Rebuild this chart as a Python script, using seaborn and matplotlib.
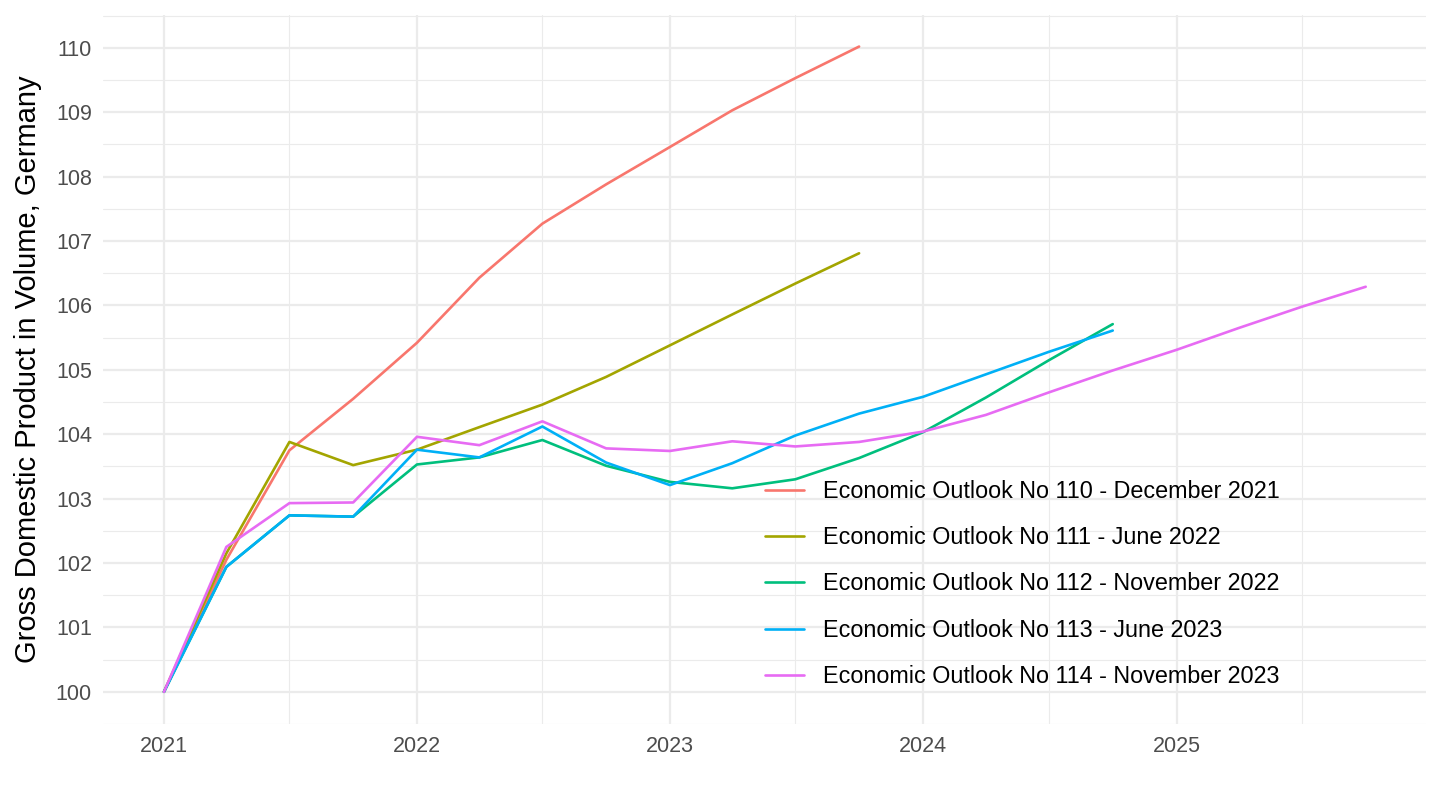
import matplotlib
matplotlib.use("Agg")
import matplotlib.pyplot as plt
import matplotlib.dates as mdates
from matplotlib.ticker import MultipleLocator
import seaborn as sns
import pandas as pd

# ---- data ----
quarters = pd.date_range("2021-01-01", "2025-10-01", freq="QS")

eo110 = [100, 102.05, 103.75, 104.55, 105.42, 106.43, 107.27, 107.88, 108.46, 109.03, 109.53, 110.02]
eo111 = [100, 102.15, 103.88, 103.52, 103.76, 104.11, 104.46, 104.89, 105.38, 105.86, 106.34, 106.81]
eo112 = [100, 101.94, 102.74, 102.72, 103.53, 103.64, 103.91, 103.51, 103.26, 103.16, 103.30, 103.63,
         104.03, 104.57, 105.15, 105.71]
eo113 = [100, 101.94, 102.74, 102.72, 103.76, 103.64, 104.12, 103.56, 103.21, 103.55, 103.98, 104.32,
         104.58, 104.93, 105.28, 105.61]
eo114 = [100, 102.25, 102.93, 102.94, 103.96, 103.83, 104.20, 103.78, 103.74, 103.89, 103.81, 103.88,
         104.04, 104.30, 104.65, 104.99, 105.31, 105.65, 105.98, 106.29]

labels = [
    "Economic Outlook No 110 - December 2021",
    "Economic Outlook No 111 - June 2022",
    "Economic Outlook No 112 - November 2022",
    "Economic Outlook No 113 - June 2023",
    "Economic Outlook No 114 - November 2023",
]
series = [eo110, eo111, eo112, eo113, eo114]
colors = ["#F8766D", "#A3A500", "#00BF7D", "#00B0F6", "#E76BF3"]

rows = []
for lab, vals in zip(labels, series):
    for d, v in zip(quarters[:len(vals)], vals):
        rows.append({"date": d, "value": v, "edition": lab})
df = pd.DataFrame(rows)

# ---- plot ----
sns.set_theme(style="white")
plt.rcParams["font.family"] = ["Liberation Sans", "DejaVu Sans"]

fig = plt.figure(figsize=(14.4, 8.1), dpi=100)
ax = fig.add_axes([103 / 1440, 86 / 810, (1426 - 103) / 1440, (724 - 15) / 810])

sns.lineplot(data=df, x="date", y="value", hue="edition", hue_order=labels,
             palette=colors, linewidth=1.9, ax=ax, legend=True)

ax.set_xlim(pd.Timestamp("2020-10-05"), pd.Timestamp("2025-12-27"))
ax.set_ylim(99.5, 110.51)

ax.xaxis.set_major_locator(mdates.YearLocator())
ax.xaxis.set_major_formatter(mdates.DateFormatter("%Y"))
ax.xaxis.set_minor_locator(mdates.MonthLocator(bymonth=7))
ax.yaxis.set_major_locator(MultipleLocator(1))
ax.yaxis.set_minor_locator(MultipleLocator(0.5))

ax.grid(which="major", color="#EBEBEB", linewidth=1.6)
ax.grid(which="minor", color="#EBEBEB", linewidth=0.8)
ax.set_axisbelow(True)
for s in ax.spines.values():
    s.set_visible(False)
ax.tick_params(which="both", length=0)
ax.tick_params(axis="both", labelsize=15.5, labelcolor="#4D4D4D")
ax.tick_params(axis="x", pad=9)
ax.tick_params(axis="y", pad=8)

ax.set_xlabel("")
ax.set_ylabel("Gross Domestic Product in Volume, Germany", fontsize=21, color="black", labelpad=10)

handles, labs = ax.get_legend_handles_labels()
leg = ax.legend(handles, labs, loc="center left", bbox_to_anchor=(765 / 1440, (810 - 584) / 810),
                bbox_transform=fig.transFigure, frameon=False, fontsize=16.8,
                handlelength=1.65, handletextpad=0.85, labelspacing=1.0,
                borderpad=0, borderaxespad=0)
for t in leg.get_texts():
    t.set_color("black")
for h in leg.get_lines():
    h.set_linewidth(1.9)

fig.savefig("out.png", dpi=100)
